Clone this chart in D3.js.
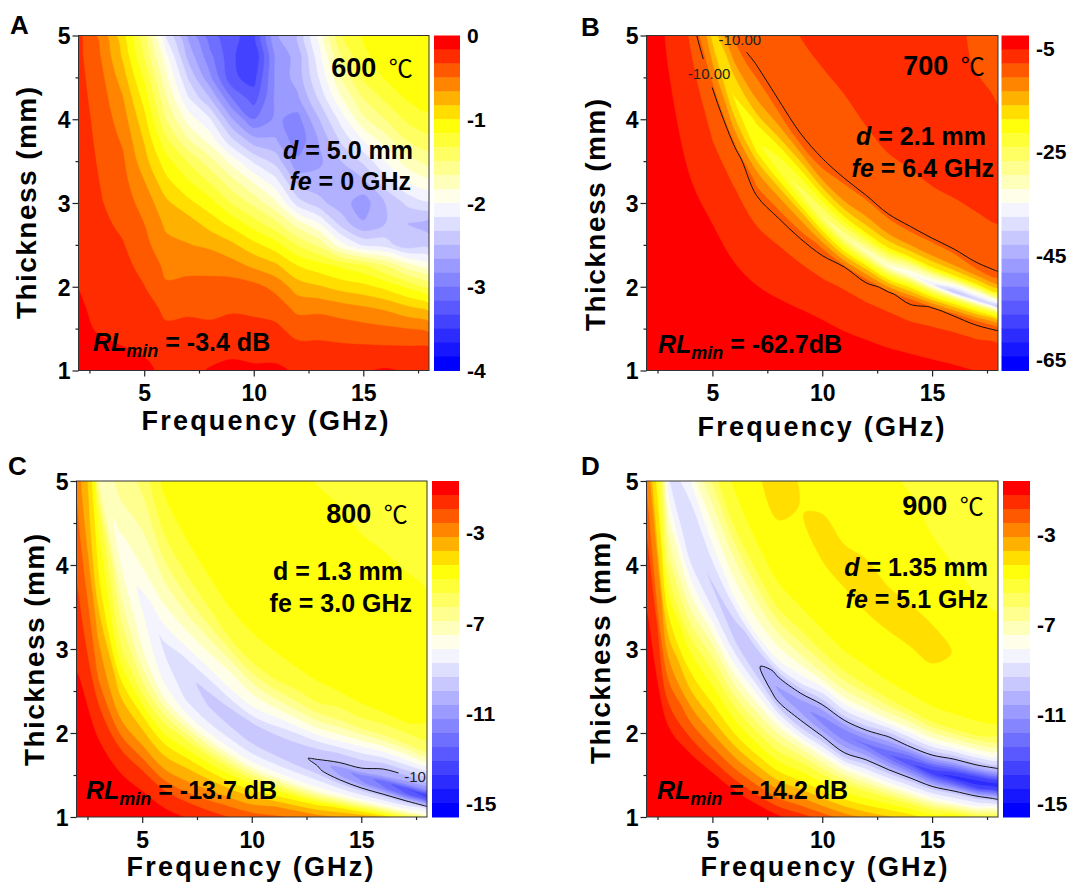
<!DOCTYPE html>
<html><head><meta charset="utf-8">
<script src="https://cdn.jsdelivr.net/npm/d3@7"></script>
<style>
html,body{margin:0;padding:0;background:#fff}
svg{display:block}
text{font-family:"Liberation Sans",Arial,sans-serif;font-weight:700;fill:#000}
.tick text{font-family:"Liberation Sans",Arial,sans-serif}
</style></head><body>
<svg id="c" width="1078" height="888"></svg>
<script>
const freqs=[2,3,4,5,6,7,8,9,10,11,12,13,14,15,16,17,18];
const thick=[5,4.75,4.5,4.25,4,3.75,3.5,3.25,3,2.75,2.5,2.25,2,1.75,1.5,1.25,1];
// thickness of the absorption ridge at each frequency, and sample rows as multiples of it
const ridgeB=[12.5,8.5,6,5,4.25,3.75,3.45,3.15,2.85,2.6,2.42,2.25,2.15,2.03,1.94,1.85,1.76];
const ridgeC=[7.5,5.3,4.2,3.6,3.05,2.72,2.45,2.22,2.02,1.88,1.76,1.65,1.57,1.49,1.42,1.34,1.26];
const ridgeD=[8,5.1,4.33,3.77,3.25,2.85,2.52,2.34,2.15,1.98,1.86,1.74,1.64,1.53,1.47,1.41,1.38];
const ratioB=[3,2.5,2,1.7,1.45,1.3,1.18,1.1,1.05,1,.96,.92,.86,.75,.65,.55,.45,.35,.25,.15,.08];
const ratioCD=[4,3,2.5,2,1.6,1.4,1.25,1.12,1.05,1,.95,.88,.8,.7,.6,.5,.4,.3,.2,.13];
const rlA=[
[-.3,-.55,-.95,-1.5,-2.2,-2.7,-3.1,-3.3,-3.4,-2.7,-2.5,-1.95,-1.35,-1.15,-1.08,-1.05,-1.05],
[-.29,-.5,-.85,-1.35,-1.95,-2.55,-2.95,-3.3,-3.5,-2.8,-2.6,-2.05,-1.5,-1.2,-1.1,-1.05,-1.05],
[-.28,-.45,-.75,-1.2,-1.8,-2.35,-2.8,-3.3,-3.4,-2.8,-2.6,-2.15,-1.65,-1.3,-1.15,-1.05,-1.05],
[-.27,-.42,-.65,-1.07,-1.65,-2.15,-2.5,-3,-3.25,-2.8,-2.7,-2.3,-1.85,-1.5,-1.3,-1.15,-1.1],
[-.25,-.4,-.58,-.95,-1.5,-1.9,-2.15,-2.65,-3,-2.8,-2.9,-2.5,-2.1,-1.7,-1.5,-1.3,-1.2],
[-.24,-.38,-.52,-.85,-1.3,-1.65,-1.9,-2.3,-2.6,-2.65,-2.95,-2.65,-2.3,-2,-1.75,-1.5,-1.4],
[-.23,-.36,-.47,-.77,-1.1,-1.35,-1.6,-1.9,-2.2,-2.4,-2.8,-2.7,-2.5,-2.3,-2,-1.75,-1.6],
[-.22,-.34,-.44,-.66,-.95,-1.15,-1.35,-1.6,-1.85,-2.1,-2.55,-2.6,-2.6,-2.55,-2.25,-2,-1.9],
[-.21,-.32,-.42,-.56,-.8,-.95,-1.1,-1.35,-1.55,-1.8,-2.25,-2.45,-2.6,-2.75,-2.5,-2.3,-2.2],
[-.2,-.29,-.37,-.5,-.7,-.75,-.9,-1.05,-1.25,-1.45,-1.75,-2,-2.4,-2.65,-2.5,-2.5,-2.6],
[-.19,-.27,-.32,-.45,-.62,-.66,-.7,-.8,-.95,-1.1,-1.35,-1.55,-1.95,-2.2,-2.25,-2.45,-2.4],
[-.18,-.24,-.29,-.38,-.54,-.56,-.55,-.6,-.7,-.8,-1,-1.1,-1.2,-1.3,-1.5,-1.75,-1.95],
[-.17,-.22,-.26,-.33,-.48,-.44,-.45,-.42,-.45,-.55,-.75,-.82,-.9,-.95,-1.05,-1.2,-1.4],
[-.15,-.2,-.23,-.27,-.37,-.36,-.38,-.36,-.36,-.41,-.55,-.55,-.6,-.65,-.7,-.8,-.9],
[-.14,-.18,-.2,-.22,-.31,-.3,-.3,-.27,-.3,-.3,-.4,-.39,-.41,-.44,-.47,-.5,-.55],
[-.12,-.14,-.16,-.18,-.23,-.22,-.2,-.19,-.2,-.2,-.28,-.29,-.3,-.3,-.3,-.3,-.3],
[-.1,-.1,-.13,-.14,-.2,-.19,-.16,-.14,-.15,-.15,-.18,-.2,-.2,-.18,-.15,-.18,-.2]];
const rlB=[
[-7.5,-7.5,-7.5,-7.5,-7.5,-7.5,-7.5,-7.5,-7.5,-7.5,-7.5,-7.5,-7.5,-7.5,-7.9,-8.6,-10],
[-7,-7,-7,-7,-7,-7,-7,-7,-7,-7,-7,-7,-7,-7.2,-7.6,-8.1,-8.4],
[-7.2,-7.2,-7.2,-7.2,-7.2,-7.2,-7.2,-7.2,-7.2,-6.8,-6.7,-6.5,-6.4,-6.3,-6.3,-6.5,-6.9],
[-7.8,-7.8,-7.8,-7.8,-7.8,-7.8,-7.8,-7.7,-7.7,-7.8,-7.6,-7.5,-7.4,-7.4,-7.4,-7.4,-7.4],
[-8.5,-8.5,-8.5,-8.5,-8.5,-8.4,-8.3,-8.3,-8.6,-8.8,-8.8,-8.7,-8.7,-8.6,-8.6,-8.5,-8.5],
[-9,-9,-9,-9,-9,-9,-8.8,-8.9,-9,-9.2,-9.3,-9.3,-9.2,-9.2,-9.1,-9,-9],
[-9.5,-9.5,-9.5,-10,-10,-11,-10.8,-10.5,-11,-12.2,-13,-12.8,-12,-12.5,-12,-11,-11],
[-10,-10,-10,-12,-13.5,-15,-16,-17,-17.5,-18,-18,-18.5,-18.5,-19,-19,-19,-19],
[-10,-10,-10,-15,-17,-19,-20.5,-21.5,-22.5,-23.5,-24.5,-26,-28,-30,-32,-32,-32],
[-10,-11,-12,-17,-19,-21,-23,-25,-27,-29,-31,-33,-35,-37,-42,-41,-44],
[-9,-10,-11,-15,-17,-18.5,-20,-21,-22,-23,-24,-24.5,-25,-25.5,-26,-26,-26],
[-8,-9,-11,-12.5,-14,-14.5,-15.5,-16,-16.5,-17,-17,-17.5,-18,-18,-18,-18,-18],
[-7,-8,-9,-9.2,-9.6,-10.8,-11,-11,-10.6,-10,-10.3,-9.8,-10.6,-9.9,-10.2,-10.6,-10.5],
[-6,-7,-7,-8,-8,-8.3,-8.4,-8.4,-8.2,-7.9,-8,-7.9,-8.2,-8,-8,-8.1,-8],
[-5.5,-6.5,-6,-6.7,-6.8,-6.9,-6.9,-6.8,-6.6,-6.5,-6.5,-6.5,-6.5,-6.5,-6.5,-6.5,-6.5],
[-5,-5.4,-5.3,-5.3,-5.4,-5.4,-5.4,-5.3,-5.1,-5.1,-5.1,-5.1,-5.2,-5.2,-5.3,-5.4,-5.4],
[-4.6,-4.5,-4.5,-4.5,-4.5,-4.5,-4.5,-4.5,-4.5,-4.5,-4.5,-4.5,-4.5,-4.5,-4.5,-4.5,-4.5],
[-4,-3.8,-3.9,-3.9,-3.9,-3.9,-3.9,-3.9,-3.9,-3.9,-3.9,-3.9,-3.9,-3.9,-3.9,-3.9,-3.9],
[-3.5,-3.2,-3.4,-3.4,-3.4,-3.4,-3.4,-3.4,-3.4,-3.4,-3.4,-3.4,-3.4,-3.4,-3.4,-3.4,-3.4],
[-3.1,-3,-3,-3,-3,-3,-3,-3,-3,-3,-3,-3,-3,-3,-3,-3,-3],
[-3,-3,-3,-3,-3,-3,-3,-3,-3,-3,-3,-3,-3,-3,-3,-3,-3]];
const rlC=[
[-5.6,-5.6,-5.6,-5.6,-5.6,-5.6,-5.6,-5.6,-5.6,-5.6,-5.6,-5.6,-5.6,-5.6,-5.6,-5.6,-5.6],
[-5,-5,-5,-5,-5,-5,-5,-5,-5,-5.05,-5.05,-5.05,-5.05,-5.1,-5.1,-5.1,-5.1],
[-4.7,-4.7,-4.7,-4.7,-4.7,-4.7,-4.7,-4.7,-4.7,-4.7,-4.7,-4.7,-4.7,-4.7,-4.7,-4.7,-4.7],
[-4.6,-4.6,-4.6,-4.6,-4.6,-4.6,-4.6,-4.6,-4.6,-4.6,-4.6,-4.6,-4.6,-4.6,-4.6,-4.6,-4.6],
[-5,-5,-5,-5.2,-5,-5,-5,-4.95,-5,-5,-5,-5,-5,-4.95,-4.95,-5,-5.2],
[-5.5,-5.8,-6,-6,-5.8,-5.8,-5.8,-5.7,-5.7,-5.7,-5.8,-5.8,-6,-6,-6.2,-6.3,-6.4],
[-6,-6.2,-6.4,-6.8,-6.9,-7,-7.2,-7.4,-7.3,-7.3,-7.4,-7.5,-7.7,-8,-8.2,-8.3,-8.6],
[-6.2,-6.5,-7,-7.4,-7.8,-8.1,-8.3,-8.3,-8.4,-8.7,-9,-9.2,-9.4,-9.5,-9.85,-10,-10.1],
[-6.5,-6.9,-7.5,-8,-8.4,-8.9,-9.2,-9.3,-9.4,-9.5,-9.6,-9.8,-10,-10.1,-10.6,-10.9,-11.5],
[-7,-7.2,-7.7,-8.3,-8.9,-9.3,-9.5,-9.6,-9.7,-9.75,-9.8,-10.15,-11,-11.5,-12.2,-13,-13.7],
[-6.5,-7,-7.5,-8.1,-8.7,-9.2,-9.4,-9.5,-9.6,-9.65,-9.75,-9.85,-10.6,-11.2,-11.8,-12.4,-12.8],
[-3.5,-5.5,-7,-7.8,-8.4,-8.8,-8.9,-8.9,-8.9,-8.9,-8.9,-8.9,-9.2,-9.4,-9.5,-9.5,-9.3],
[-3,-4.8,-6.3,-7.3,-7.7,-7.9,-7.9,-7.9,-7.9,-7.9,-7.9,-7.9,-7.9,-7.9,-7.9,-7.7,-7.5],
[-2.9,-4.2,-5.4,-5.9,-5.8,-5.6,-5.5,-5.4,-5.2,-5,-4.8,-4.6,-4.3,-4,-3.8,-3.6,-3.4],
[-2.4,-3.3,-4,-4.2,-4.2,-4,-3.9,-3.8,-3.6,-3.2,-3,-2.8,-2.6,-2.4,-2.3,-2.2,-2.1],
[-1.9,-2.6,-3,-3,-3,-2.9,-2.7,-2.5,-2.3,-2.1,-1.9,-1.8,-1.8,-1.8,-1.8,-1.7,-1.7],
[-1.45,-1.45,-1.45,-1.45,-1.45,-1.45,-1.45,-1.45,-1.45,-1.45,-1.45,-1.45,-1.45,-1.45,-1.45,-1.45,-1.45],
[-1.1,-1.1,-1.1,-1.1,-1.1,-1.1,-1.1,-1.1,-1.1,-1.1,-1.1,-1.1,-1.1,-1.1,-1.1,-1.1,-1.1],
[-.9,-.9,-.9,-.9,-.9,-.9,-.9,-.9,-.9,-.9,-.9,-.9,-.9,-.9,-.9,-.9,-.9],
[-.8,-.8,-.8,-.8,-.8,-.8,-.8,-.8,-.8,-.8,-.8,-.8,-.8,-.8,-.8,-.8,-.8]];
const rlD=[
[-5.6,-5.6,-5.6,-5.6,-5.6,-5.6,-5.6,-5.6,-5.6,-5.6,-5.6,-5.6,-5.6,-5.6,-5.6,-5.6,-5.6],
[-5,-5,-5,-5,-5,-5,-5,-5,-5,-5,-5,-5,-5,-5.1,-5.2,-5.3,-5.4],
[-4.6,-4.6,-4.6,-4.6,-4.6,-4.6,-4.6,-4.6,-4.6,-4.6,-4.6,-4.7,-4.7,-4.7,-4.8,-4.9,-5],
[-4.7,-4.7,-4.7,-4.7,-4.5,-4.2,-4.1,-4.37,-4.25,-4.25,-4.2,-4.2,-4.2,-4.2,-4.37,-4.6,-4.6],
[-4.8,-4.8,-4.8,-4.8,-4.7,-4.6,-4.6,-4.55,-4.6,-4.6,-4.6,-4.6,-4.6,-4.6,-4.6,-4.6,-4.6],
[-5.5,-6,-5.4,-5.4,-5.3,-5.4,-5.4,-5.4,-5.4,-5.4,-5.4,-5.4,-5.4,-5.5,-5.5,-5.6,-5.8],
[-6,-7,-6.8,-6.9,-6.9,-6.9,-7,-6.9,-7,-7.1,-7.2,-7.4,-7.6,-7.8,-7.9,-8,-8.1],
[-6.5,-8.3,-8.6,-8.2,-8,-8,-8.3,-8.5,-9.3,-9.2,-9.4,-10.1,-10,-10.3,-10.6,-10.6,-10.4],
[-7,-8.6,-9,-9,-9.2,-9.5,-10.2,-10.2,-10.8,-10.9,-11,-11.5,-12,-12.5,-13,-13.2,-13.2],
[-7,-8.8,-9.2,-9.4,-9.6,-9.85,-10.7,-11,-11.5,-11.8,-12,-12.5,-13,-13.6,-14,-14.1,-14.2],
[-6.5,-8.2,-9,-9.1,-9.3,-9.5,-10.2,-10.5,-10.8,-11,-11,-11.3,-11.7,-12,-12.4,-13,-13.3],
[-5,-7.2,-8,-8.1,-8.3,-8.3,-8.6,-9.3,-9.3,-9.8,-9.5,-9.5,-9.6,-9.6,-9.6,-9.7,-10.1],
[-4.2,-6.2,-6.8,-6.7,-7,-7,-7,-7.3,-7.5,-7.7,-7.8,-7.9,-8,-8,-8.1,-8.1,-8.1],
[-3.5,-4.8,-5.2,-5.2,-5.4,-5.5,-5.5,-5.5,-5.6,-5.6,-5.6,-5.5,-5.5,-5.4,-5,-5,-5],
[-2.4,-3.5,-4,-4.1,-4.2,-4.2,-4.2,-4.2,-4.2,-4.2,-4.2,-4,-3.9,-3.8,-3.7,-3.6,-3.5],
[-1.5,-2.3,-2.6,-2.7,-2.7,-2.7,-2.7,-2.7,-2.7,-2.7,-2.7,-2.7,-2.7,-2.7,-2.7,-2.7,-2.7],
[-1.1,-1.15,-1.15,-1.15,-1.15,-1.15,-1.15,-1.15,-1.15,-1.15,-1.15,-1.15,-1.15,-1.15,-1.15,-1.15,-1.15],
[-1,-1,-1,-1,-1,-1,-1,-1,-1,-1,-1,-1,-1,-1,-1,-1,-1],
[-.9,-.9,-.9,-.9,-.9,-.9,-.9,-.9,-.9,-.9,-.9,-.9,-.9,-.9,-.9,-.9,-.9],
[-.8,-.8,-.8,-.8,-.8,-.8,-.8,-.8,-.8,-.8,-.8,-.8,-.8,-.8,-.8,-.8,-.8]];
const xMajor=[5,10,15], xMinor=[2.5,7.5,12.5,17.5];
const yMajor=[1,2,3,4,5], yMinor=[1.5,2.5,3.5,4.5];
const barTicksA=[0,-1,-2,-3,-4], barTicksB=[-5,-25,-45,-65], barTicksCD=[-3,-7,-11,-15];
const rangeA=[0,-4], rangeB=[-2.6,-67.2], rangeC=[-.7,-15.6], rangeD=[-.6,-15.6];
const nBands=24, contourLevel=-10;

const panels=[
 {id:"A",grid:rlA,range:rangeA,ticks:barTicksA,line:false,x0:78.5,x1:429,y0:35.5,y1:370.5,bx:434,bw:26,
  letter:[10,34],ytitle:[36,203],xtitle:[265,430],temp:"600",tempAt:[372,77],
  lines:[["d"," = 5.0 mm",413,159],["fe"," = 0 GHz",411,190]],rl:" = -3.4 dB",rlAt:[93,351]},
 {id:"B",grid:rlB,ridge:ridgeB,ratio:ratioB,range:rangeB,ticks:barTicksB,line:true,x0:646.5,x1:998,y0:35.5,y1:370.5,bx:1001.5,bw:27.5,
  letter:[581,36],ytitle:[605,215],xtitle:[821,436],temp:"700",tempAt:[944,75],
  lines:[["d"," = 2.1 mm",986,145],["fe"," = 6.4 GHz",994,177]],rl:" = -62.7dB",rlAt:[658,353],
  labels:[[4.85,4.55,"-10.00"],[6.25,4.95,"-10.00"]],gaps:[[3.8,5.9,4.38,4.72],[5.3,7.4,4.8,5.2]]},
 {id:"C",grid:rlC,ridge:ridgeC,ratio:ratioCD,range:rangeC,ticks:barTicksCD,line:true,x0:76.5,x1:427,y0:481,y1:817,bx:432,bw:27,
  letter:[8,475],ytitle:[44,650],xtitle:[250,876],temp:"800",tempAt:[367,523],
  lines:[["","d = 1.3 mm",403,580],["","fe = 3.0 GHz",412,612]],rl:" = -13.7 dB",rlAt:[86,799],
  labels:[[17.55,1.48,"-10."]],gaps:[[16.7,18.2,1.3,1.62]]},
 {id:"D",grid:rlD,ridge:ridgeD,ratio:ratioCD,range:rangeD,ticks:barTicksCD,line:true,x0:646.5,x1:998,y0:481,y1:817,bx:1003,bw:27,
  letter:[581,475],ytitle:[610,648],xtitle:[824,876],temp:"900",tempAt:[943,515],
  lines:[["d"," = 1.35 mm",988,576],["fe"," = 5.1 GHz",988,608]],rl:" = -14.2 dB",rlAt:[657,799]}
];

function bandColor(i){
  const u=i/(nBands-1);
  return d3.scaleLinear().domain([0,.25,.5,1]).range(["#ff0000","#ffff00","#ffffff","#0000ff"])(u);
}
const svg=d3.select("#c");
const defs=svg.append("defs");
const cl=(v,a)=>Math.max(0,Math.min(a,v));

panels.forEach(p=>{
  const n=freqs.length,m=p.grid.length;
  const x=d3.scaleLinear([2,18],[p.x0,p.x1]);
  const y=d3.scaleLinear([1,5],[p.y1,p.y0]);
  const g=svg.append("g");
  const flat=p.grid.flat();
  // thickness of grid node (column i, row j)
  const nodeT=(i,j)=>p.ridge?p.ridge[i]*p.ratio[j]:thick[j];
  const toPx=c=>{
    const a=cl(c[0]-.5,n-1),b=cl(c[1]-.5,m-1);
    const i0=Math.min(Math.floor(a),n-2),j0=Math.min(Math.floor(b),m-2);
    const u=a-i0,v=b-j0;
    const t=(1-u)*((1-v)*nodeT(i0,j0)+v*nodeT(i0,j0+1))+u*((1-v)*nodeT(i0+1,j0)+v*nodeT(i0+1,j0+1));
    const f=freqs[i0]+u*(freqs[i0+1]-freqs[i0]);
    return [x(f),y(t)];
  };
  const dedupe=a=>a.filter((q,i)=>i===0||Math.abs(q[0]-a[i-1][0])>.01||Math.abs(q[1]-a[i-1][1])>.01);
  const closed=d3.line().curve(d3.curveCatmullRomClosed.alpha(.5));
  const open=d3.line().curve(d3.curveCatmullRom.alpha(.5));
  defs.append("clipPath").attr("id","clip"+p.id).append("rect")
    .attr("x",p.x0).attr("y",p.y0).attr("width",p.x1-p.x0).attr("height",p.y1-p.y0);
  const [hi,lo]=p.range;
  const step=(hi-lo)/nBands;
  const thresholds=d3.range(nBands).map(i=>lo+i*step);
  const field=d3.contours().size([n,m]).thresholds(thresholds)(flat);
  const plot=g.append("g").attr("clip-path",`url(#clip${p.id})`);
  plot.append("rect").attr("x",p.x0).attr("y",p.y0).attr("width",p.x1-p.x0).attr("height",p.y1-p.y0)
    .attr("fill",bandColor(nBands-1));
  plot.selectAll("path.band").data(field).join("path").attr("class","band")
    .attr("fill-rule","evenodd")
    .attr("fill",(d,i)=>bandColor(nBands-1-i))
    .attr("stroke",(d,i)=>bandColor(nBands-1-i)).attr("stroke-width",.4)
    .attr("d",d=>d.coordinates.flatMap(poly=>poly.map(r=>closed(dedupe(r.slice(0,-1).map(toPx))))).join(""));
  // -10 dB contour line
  if(p.line){
    const iso=d3.contours().size([n,m]).thresholds([contourLevel])(flat)[0];
    const inner=c=>c[0]>=.5&&c[0]<=n-.5&&c[1]>=.5&&c[1]<=m-.5;
    const runs=[];
    iso.coordinates.forEach(poly=>poly.forEach(r=>{
      let ring=r.slice(0,-1);
      const b=ring.findIndex(c=>!inner(c));
      if(b<0){runs.push({c:true,pts:ring});return;}
      ring=ring.slice(b).concat(ring.slice(0,b));
      let cur=[];
      ring.concat([ring[0]]).forEach(c=>{
        if(inner(c))cur.push(c);
        else{if(cur.length>1)runs.push({c:false,pts:cur});cur=[];}
      });
    }));
    let clipId="clip"+p.id;
    if(p.gaps){
      clipId="gap"+p.id;
      const box=`M${p.x0},${p.y0}H${p.x1}V${p.y1}H${p.x0}Z`;
      const holes=p.gaps.map(q=>`M${x(q[0])},${y(q[3])}H${x(q[1])}V${y(q[2])}H${x(q[0])}Z`).join("");
      defs.append("clipPath").attr("id",clipId).append("path").attr("d",box+holes).attr("clip-rule","evenodd");
    }
    plot.append("g").attr("clip-path",`url(#${clipId})`).selectAll("path").data(runs).join("path")
      .attr("fill","none").attr("stroke","#111").attr("stroke-width",1)
      .attr("d",d=>(d.c?closed:open)(dedupe(d.pts.map(toPx))));
    (p.labels||[]).forEach(l=>plot.append("text").attr("x",x(l[0])).attr("y",y(l[1])).attr("dy",".36em")
      .attr("text-anchor","middle").style("font-size","15px").style("font-weight","400").style("fill","#222").text(l[2]));
  }
  // frame
  g.append("rect").attr("x",p.x0).attr("y",p.y0).attr("width",p.x1-p.x0).attr("height",p.y1-p.y0)
    .attr("fill","none").attr("stroke","#333").attr("stroke-width",1);
  // axes
  const bot=g.append("g").attr("transform",`translate(0,${p.y1})`)
    .call(d3.axisBottom(x).tickValues(xMajor).tickSize(6).tickFormat(d3.format("d")));
  const botMin=g.append("g").attr("transform",`translate(0,${p.y1})`)
    .call(d3.axisBottom(x).tickValues(xMinor).tickSize(3).tickFormat(""));
  const left=g.append("g").attr("transform",`translate(${p.x0},0)`)
    .call(d3.axisLeft(y).tickValues(yMajor).tickSize(6).tickFormat(d3.format("d")));
  const leftMin=g.append("g").attr("transform",`translate(${p.x0},0)`)
    .call(d3.axisLeft(y).tickValues(yMinor).tickSize(3).tickFormat(""));
  [bot,botMin,left,leftMin].forEach(a=>{a.select(".domain").remove();a.selectAll("line").attr("stroke","#222").attr("stroke-width",1.2);
    a.selectAll("text").style("font-size","23px").style("font-weight","700").attr("fill","#000");});
  bot.selectAll("text").attr("dy","0.95em");
  left.selectAll("text").attr("x",-8).attr("dy",".36em");
  // colour bar
  const by=d3.scaleLinear([hi,lo],[p.y0,p.y1]);
  g.selectAll("rect.bar").data(d3.range(nBands)).join("rect").attr("class","bar")
    .attr("x",p.bx).attr("width",p.bw)
    .attr("y",i=>by(hi-i*step)).attr("height",i=>by(hi-(i+1)*step)-by(hi-i*step)+.5)
    .attr("fill",i=>bandColor(i));
  g.selectAll("text.bt").data(p.ticks).join("text").attr("class","bt")
    .attr("x",p.bx+p.bw+7).attr("y",d=>by(d)).attr("dy",".36em")
    .style("font-size","21px").text(d=>String(d));
  // titles
  g.append("text").attr("x",p.letter[0]).attr("y",p.letter[1]).style("font-size","26px").text(p.id);
  g.append("text").attr("transform",`translate(${p.ytitle[0]},${p.ytitle[1]}) rotate(-90)`)
    .attr("text-anchor","middle").attr("textLength",232).attr("lengthAdjust","spacing").style("font-size","28px").text("Thickness (mm)");
  g.append("text").attr("x",p.xtitle[0]).attr("y",p.xtitle[1]).attr("text-anchor","middle")
    .attr("textLength",247).attr("lengthAdjust","spacing").style("font-size","27px").text("Frequency (GHz)");
  const tt=g.append("text").attr("x",p.tempAt[0]).attr("y",p.tempAt[1]).attr("text-anchor","middle").style("font-size","27px");
  tt.append("tspan").text(p.temp+" ");
  tt.append("tspan").attr("dx",5).style("font-family",'"Noto Sans CJK SC"').style("font-weight","400").style("font-size","24px").text("℃");
  p.lines.forEach(l=>{
    const t=g.append("text").attr("x",l[2]).attr("y",l[3]).attr("text-anchor","end").style("font-size","25px");
    if(l[0])t.append("tspan").style("font-style","italic").text(l[0]);
    t.append("tspan").text(l[1]);
  });
  const r=g.append("text").attr("x",p.rlAt[0]).attr("y",p.rlAt[1]).style("font-size","25px");
  r.append("tspan").style("font-style","italic").text("RL");
  r.append("tspan").style("font-style","italic").style("font-size","18px").attr("dy",6).text("min");
  r.append("tspan").attr("dy",-6).text(p.rl);
});
</script>
</body></html>
